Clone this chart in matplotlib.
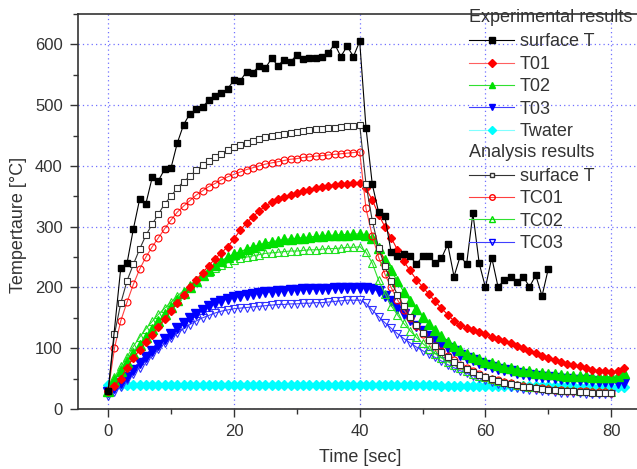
import numpy as np
import matplotlib
matplotlib.use("Agg")
import matplotlib.pyplot as plt
import matplotlib.ticker as mtick
from matplotlib.lines import Line2D
from matplotlib.legend_handler import HandlerBase
from matplotlib.text import Text

plt.rcParams["font.family"] = ["Liberation Sans", "DejaVu Sans"]

# experimental surface temperature (sampled with a gap at 1 s)
t_surf_exp = [0, 2, 3, 4, 5, 6, 7, 8, 9, 10, 11, 12, 13, 14, 15, 16, 17, 18, 19, 20,
              21, 22, 23, 24, 25, 26, 27, 28, 29, 30, 31, 32, 33, 34, 35, 36, 37, 38, 39, 40,
              41, 42, 43, 44, 45, 46, 47, 48, 49, 50, 51, 52, 53, 54, 55, 56, 57, 58, 59, 60,
              61, 62, 63, 64, 65, 66, 67, 68, 69, 70]
surf_exp = [30, 232, 240, 296, 345, 338, 381, 376, 395, 397, 438, 468, 486, 493, 497, 508, 515, 520, 527, 541,
            540, 555, 553, 565, 561, 577, 565, 575, 571, 583, 576, 578, 578, 580, 585, 601, 580, 597, 580, 605,
            463, 370, 324, 317, 258, 252, 255, 252, 238, 251, 252, 240, 248, 271, 218, 252, 238, 322, 240, 200,
            249, 201, 212, 218, 209, 218, 201, 220, 186, 231]

t_exp = list(range(0, 83))
t01 = [30, 38, 50, 68, 84, 97, 110, 122, 135, 148, 162, 175, 188, 200, 213, 224, 236, 247, 257, 267,
       280, 294, 306, 316, 326, 334, 340, 345, 349, 352, 355, 358, 361, 363, 365, 367, 369, 370, 371, 372,
       372, 363, 344, 320, 300, 282, 262, 243, 228, 213, 201, 189, 177, 166, 155, 145, 138, 134, 130, 127,
       123, 119, 116, 112, 108, 104, 100, 96, 92, 87, 84, 80, 77, 74, 72, 70, 67, 65, 63, 62,
       61, 62, 67]
t02 = [30, 48, 62, 78, 92, 105, 118, 131, 144, 156, 168, 180, 191, 201, 211, 220, 229, 237, 244, 250,
       255, 259, 263, 267, 270, 273, 275, 277, 279, 280, 281, 282, 283, 284, 285, 286, 286, 287, 287, 288,
       288, 287, 282, 265, 245, 228, 210, 193, 178, 164, 152, 140, 130, 120, 111, 104, 97, 91, 86, 82,
       78, 75, 72, 69, 67, 65, 63, 62, 60, 59, 58, 57, 56, 55, 55, 54, 54, 53, 53, 53,
       53, 55, 60]
t03 = [28, 34, 42, 53, 64, 75, 85, 95, 105, 115, 124, 133, 141, 149, 156, 163, 169, 174, 178, 181,
       184, 186, 188, 190, 191, 192, 193, 194, 195, 196, 196, 197, 197, 198, 198, 198, 199, 199, 199, 199,
       199, 199, 198, 194, 186, 177, 167, 157, 147, 137, 128, 120, 113, 107, 101, 95, 89, 84, 80, 76,
       72, 69, 66, 64, 62, 60, 58, 56, 55, 53, 52, 51, 50, 49, 48, 48, 47, 46, 45, 45,
       44, 43, 43]
twater = [40, 39, 39, 39, 39, 39, 39, 39, 39, 39, 39, 39, 39, 39, 39, 39, 39, 39, 39, 39,
          39, 39, 39, 39, 39, 39, 39, 39, 39, 39, 39, 39, 39, 39, 39, 39, 39, 39, 39, 39,
          39, 39, 39, 39, 39, 39, 39, 39, 39, 39, 39, 39, 39, 38, 38, 38, 38, 38, 38, 38,
          38, 38, 38, 38, 38, 38, 38, 38, 38, 38, 38, 38, 38, 38, 38, 37, 37, 37, 37, 37,
          37, 37, 37]

t_ana = list(range(0, 81))
surf_ana = [30, 123, 174, 211, 238, 263, 286, 304, 321, 338, 350, 364, 374, 383, 393, 401, 408, 415, 420, 426,
            431, 434, 438, 441, 444, 447, 449, 451, 453, 455, 456, 458, 459, 460, 461, 462, 463, 464, 465, 466,
            468, 370, 310, 265, 235, 210, 188, 169, 152, 138, 125, 113, 103, 94, 86, 78, 72, 66, 61, 56,
            52, 49, 46, 43, 41, 39, 37, 36, 34, 33, 32, 31, 30, 29, 29, 28, 28, 27, 27, 27,
            26]
tc01 = [30, 100, 145, 176, 205, 230, 250, 267, 282, 297, 311, 324, 334, 343, 352, 359, 366, 371, 377, 382,
        386, 390, 394, 397, 400, 403, 405, 407, 409, 411, 412, 414, 415, 416, 417, 418, 419, 420, 421, 422,
        423, 330, 285, 250, 222, 200, 180, 163, 150, 137, 124, 113, 104, 95, 87, 80, 73, 67, 62, 57,
        53, 50, 47, 44, 42, 40, 38, 37, 35, 34, 33, 32, 31, 30, 30, 29, 29, 28, 28, 28,
        27]
tc02 = [30, 52, 70, 86, 103, 118, 132, 144, 156, 166, 176, 186, 195, 204, 212, 220, 226, 232, 237, 241,
        245, 248, 250, 252, 254, 256, 257, 258, 259, 260, 260, 261, 262, 262, 263, 264, 264, 265, 266, 266,
        267, 258, 240, 212, 190, 170, 155, 141, 129, 118, 108, 99, 91, 84, 78, 72, 67, 62, 58, 55,
        52, 49, 46, 44, 42, 40, 39, 37, 36, 35, 34, 33, 32, 31, 31, 30, 30, 29, 29, 29,
        28]
tc03 = [22, 28, 37, 47, 58, 68, 79, 89, 99, 108, 117, 125, 132, 139, 145, 150, 154, 158, 161, 163,
        165, 166, 167, 168, 169, 170, 171, 172, 172, 173, 173, 174, 174, 175, 175, 176, 177, 178, 179, 179,
        179, 174, 163, 152, 142, 133, 124, 116, 109, 102, 96, 90, 85, 79, 73, 68, 63, 59, 55, 51,
        47, 44, 41, 39, 37, 35, 33, 32, 31, 30, 29, 28, 27, 27, 26, 26, 25, 25, 25, 25,
        24]


class HeaderHandler(HandlerBase):
    def create_artists(self, legend, orig_handle, xdescent, ydescent, width, height, fontsize, trans):
        txt = Text(-xdescent, height / 2 - ydescent, orig_handle.get_label(), fontsize=fontsize,
                   ha="left", va="center", color="#333333", transform=trans)
        return [txt]


class Header(Line2D):
    pass


fig = plt.figure(figsize=(6.37, 4.69), dpi=100)
ax = fig.add_axes([78 / 637, 60 / 469, 559 / 637, 395 / 469])

ax.plot(t_exp, twater, color="cyan", lw=0.8, marker="D", ms=5, mec="cyan", mfc="cyan", zorder=2)
ax.plot(t_ana, tc03, color="#4040ff", lw=0.8, marker="v", ms=6, mec="#3030ff", mfc="none", mew=0.8, zorder=3)
ax.plot(t_exp, t03, color="blue", lw=0.8, marker="v", ms=6.5, mec="blue", mfc="blue", zorder=3)
ax.plot(t_ana, tc02, color="#30e030", lw=0.8, marker="^", ms=6, mec="#20e020", mfc="none", mew=0.8, zorder=3)
ax.plot(t_exp, t02, color="#00e000", lw=0.8, marker="^", ms=6.5, mec="#00e000", mfc="#00e000", zorder=3)
ax.plot(t_exp, t01, color="red", lw=0.8, marker="D", ms=4.5, mec="red", mfc="red", zorder=3)
ax.plot(t_ana, tc01, color="#ff4040", lw=0.8, marker="o", ms=5, mec="red", mfc="none", mew=0.8, zorder=4)
ax.plot(t_ana, surf_ana, color="#333333", lw=0.8, marker="s", ms=4.5, mec="#333333", mfc="white", mew=0.8, zorder=4)
ax.plot(t_surf_exp, surf_exp, color="black", lw=0.8, marker="s", ms=5, mec="black", mfc="black", zorder=5)

ax.set_xlim(-4.8, 84.1)
ax.set_ylim(0, 650)
ax.xaxis.set_major_locator(mtick.MultipleLocator(20))
ax.xaxis.set_minor_locator(mtick.MultipleLocator(10))
ax.yaxis.set_major_locator(mtick.MultipleLocator(100))
ax.yaxis.set_minor_locator(mtick.MultipleLocator(50))
ax.grid(True, which="major", color="#7070ff", linestyle=(0, (1, 2.5)), lw=0.9)
ax.tick_params(which="both", direction="out", colors="#333333", labelsize=12)
ax.tick_params(which="major", length=6, width=1, pad=5)
ax.tick_params(which="minor", length=3.5, width=1)
for s in ["left", "bottom", "top"]:
    ax.spines[s].set_color("#333333")
    ax.spines[s].set_linewidth(1.2)
ax.spines["right"].set_visible(False)
ax.set_xlabel("Time [sec]", fontsize=13, color="#333333")
ax.set_ylabel("Tempertaure [°C]", fontsize=13, color="#333333")
ax.xaxis.set_label_coords(0.504, -0.1)
ax.yaxis.set_label_coords(-0.092, 0.466)

handles = [
    Header([], [], label="Experimental results"),
    Line2D([], [], color="black", lw=0.8, marker="s", ms=5, mfc="black", mec="black"),
    Line2D([], [], color="#ff6060", lw=0.8, marker="D", ms=4, mfc="red", mec="red"),
    Line2D([], [], color="#30e030", lw=0.8, marker="^", ms=5, mfc="#00e000", mec="#00e000"),
    Line2D([], [], color="#4040ff", lw=0.8, marker="v", ms=5, mfc="blue", mec="blue"),
    Line2D([], [], color="#80ffff", lw=0.8, marker="D", ms=4, mfc="cyan", mec="cyan"),
    Header([], [], label="Analysis results"),
    Line2D([], [], color="#333333", lw=0.8, marker="s", ms=3, mfc="white", mec="#333333"),
    Line2D([], [], color="#ff4040", lw=0.8, marker="o", ms=4, mfc="none", mec="red"),
    Line2D([], [], color="#30e030", lw=0.8, marker="^", ms=5, mfc="none", mec="#00e000"),
    Line2D([], [], color="#4040ff", lw=0.8, marker="v", ms=5, mfc="none", mec="blue"),
]
labels = ["", "surface T", "T01", "T02", "T03", "Twater", "", "surface T", "TC01", "TC02", "TC03"]

leg = ax.legend(handles, labels, handler_map={Header: HeaderHandler()},
                loc="upper left", bbox_to_anchor=(469 / 637, 1 - 11 / 469),
                bbox_transform=fig.transFigure, frameon=False, fontsize=13,
                handlelength=2.5, handletextpad=0.3, labelspacing=0.3,
                borderpad=0, borderaxespad=0)
for txt in leg.get_texts():
    txt.set_color("#333333")

fig.savefig("out.png", dpi=100)
